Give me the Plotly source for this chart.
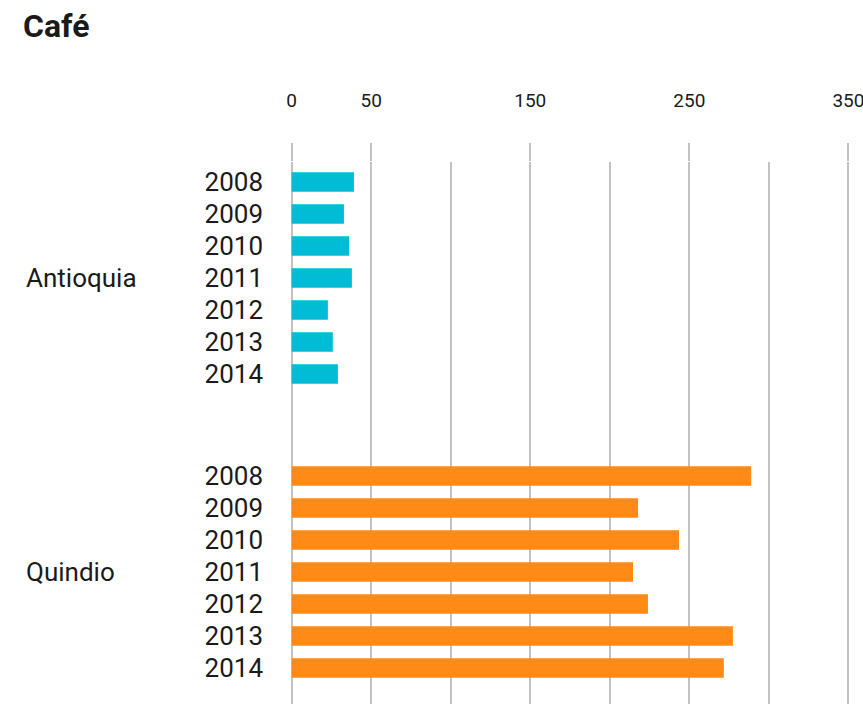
import plotly.graph_objects as go

years = ["2008", "2009", "2010", "2011", "2012", "2013", "2014"]
antioquia = [39.2, 32.9, 36.2, 37.9, 22.8, 25.9, 29.1]
quindio = [288.9, 217.8, 243.5, 214.6, 224.0, 277.4, 271.7]
groups = ["Antioquia", "Quindio"]
major_ticks = [0, 50, 150, 250, 350]
minor_ticks = [100, 200, 300]

grid_col = "#c2c2c2"
font = "Roboto"

fig = go.Figure()
fig.add_trace(go.Bar(y=years, x=antioquia, orientation="h", xaxis="x", yaxis="y",
                     marker=dict(color="#00BCD4", line=dict(width=0)), width=0.61,
                     showlegend=False, hoverinfo="x+y"))
fig.add_trace(go.Bar(y=years, x=quindio, orientation="h", xaxis="x", yaxis="y2",
                     marker=dict(color="#FF8B16", line=dict(width=0)), width=0.61,
                     showlegend=False, hoverinfo="x+y"))

split = 0.5148
fig.update_layout(
    width=863, height=704,
    margin=dict(l=289.7, r=12.7, t=162, b=0),
    paper_bgcolor="white", plot_bgcolor="white",
    font=dict(family=font, color="#1a1a1a"),
    title=dict(text="<b>Café</b>", x=23 / 863, xanchor="left", y=1 - 26 / 704, yanchor="middle",
               font=dict(size=32, family=font, color="#1a1a1a")),
    xaxis=dict(range=[-1, 351], side="top", anchor="y", tickvals=major_ticks,
               ticks="outside", ticklen=18, tickcolor=grid_col, tickwidth=1.6,
               ticklabelstandoff=28, ticklabeloverflow="allow",
               showgrid=True, gridcolor=grid_col, gridwidth=1.6, zeroline=False,
               showline=False, tickfont=dict(size=19, family=font, color="#1a1a1a"),
               minor=dict(tickvals=minor_ticks, showgrid=True, gridcolor=grid_col,
                          gridwidth=1.6, ticks="")),
    yaxis=dict(domain=[split, 1], type="category", range=[7.594, -0.625],
               showgrid=False, zeroline=False, showline=False, ticks="",
               ticklabelstandoff=26, tickfont=dict(size=26, family=font, color="#1a1a1a")),
    yaxis2=dict(domain=[0, split], type="category", range=[7.125, -1.594], anchor="x",
                showgrid=False, zeroline=False, showline=False, ticks="",
                ticklabelstandoff=26, tickfont=dict(size=26, family=font, color="#1a1a1a")),
)

for g, yref in zip(groups, ["y", "y2"]):
    fig.add_annotation(text=g, xref="paper", x=(23 - 289.7) / 560.6, xanchor="left",
                       yref=yref, y=3, yanchor="middle", showarrow=False,
                       font=dict(size=26, family=font, color="#1a1a1a"))

fig.write_html("out.html")
